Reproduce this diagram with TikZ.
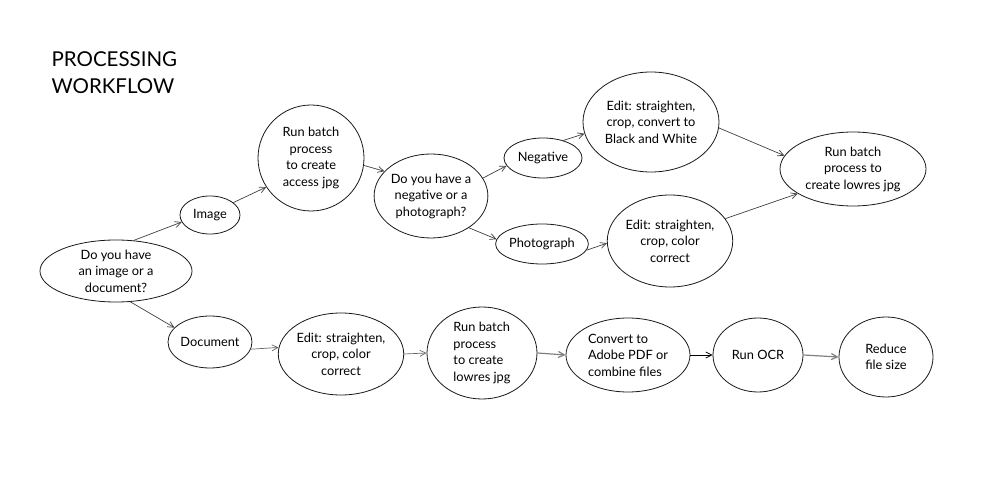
\documentclass[tikz,border=0pt]{standalone}
\usepackage{fontspec}
\setmainfont{Lato}
\usetikzlibrary{shapes.geometric,arrows.meta}
\begin{document}
\begin{tikzpicture}[x=1pt,y=1pt,
  every node/.style={font=\fontsize{12.8}{16.5}\selectfont, text=black},
  bub/.style={ellipse, draw=black!90, line width=0.8pt, inner sep=0pt},
  conn/.style={draw=black!75, line width=0.7pt, -{Straight Barb[length=6pt,width=6pt]}},
  gconn/.style={draw=black!50, line width=1.2pt, -{Straight Barb[length=6pt,width=6pt]}}]
\useasboundingbox (0,0) rectangle (983,501);
% title (y = 501 - pixel y)
\node[anchor=west, align=left, font=\fontsize{20.5}{27}\selectfont] (title) at (48,428) {PROCESSING\\WORKFLOW};
% nodes
\node[bub, minimum width=152, minimum height=62, align=center] (q1) at (116,230) {Do you have\\an image or a\\document?};
\node[bub, minimum width=60, minimum height=38, align=center] (img) at (210,286) {Image};
\node[bub, minimum width=106, minimum height=106, align=center] (rba) at (311,343) {Run batch\\process\\to create\\access jpg};
\node[bub, minimum width=112, minimum height=84, align=center] (q2) at (431,305) {Do you have a\\negative or a\\photograph?};
\node[bub, minimum width=78, minimum height=40, align=center] (neg) at (543,343) {Negative};
\node[bub, minimum width=136, minimum height=100, align=center] (ebw) at (651,379) {Edit: straighten,\\crop, convert to\\Black and White};
\node[bub, minimum width=80, minimum height=40, align=center] (pho) at (542,257) {Photograph};
\node[bub, minimum width=120, minimum height=92, align=center] (ec) at (670,260) {Edit: straighten,\\crop, color\\correct};
\node[bub, minimum width=146, minimum height=74, align=center] (rl) at (853,332) {Run batch\\process to\\create lowres jpg};
\node[bub, minimum width=84, minimum height=52, align=center] (doc) at (210,159) {Document};
\node[bub, minimum width=114, minimum height=82, align=center] (eb) at (341,147) {Edit: straighten,\\crop, color\\correct};
\node[bub, minimum width=110, minimum height=92, align=left] (rbb) at (482,148) {Run batch\\process\\to create\\lowres jpg};
\node[bub, minimum width=124, minimum height=74, align=left] (conv) at (628,146) {Convert to\\Adobe PDF or\\combine files};
\node[bub, minimum width=90, minimum height=74, align=center] (ocr) at (758,146) {Run OCR};
\node[bub, minimum width=94, minimum height=80, align=center] (red) at (886,144) {Reduce\\file size};
% connectors
\draw[conn] (q1.60) -- (img.194);
\draw[conn] (q1.295) -- (doc.158);
\draw[conn] (img.28) -- (rba.213);
\draw[conn] (rba.352) -- (q2.152);
\draw[conn] (q2.19) -- (neg.192);
\draw[conn] (q2.320) -- (pho.174);
\draw[conn] (neg.41) -- (ebw.190);
\draw[conn] (pho.352) -- (ec.182);
\draw[conn] (ebw.355) -- (rl.169);
\draw[conn] (ec.22) -- (rl.204);
\draw[conn, draw=black!60] (doc.350) -- (eb.174);
\draw[conn, draw=black!60] (eb.east) -- (rbb.west);
\draw[gconn] (rbb.east) -- (conv.west);
\draw[conn, draw=black, line width=0.8pt] (conv.east) -- (ocr.west);
\draw[gconn] (ocr.east) -- (red.west);
\end{tikzpicture}
\end{document}
